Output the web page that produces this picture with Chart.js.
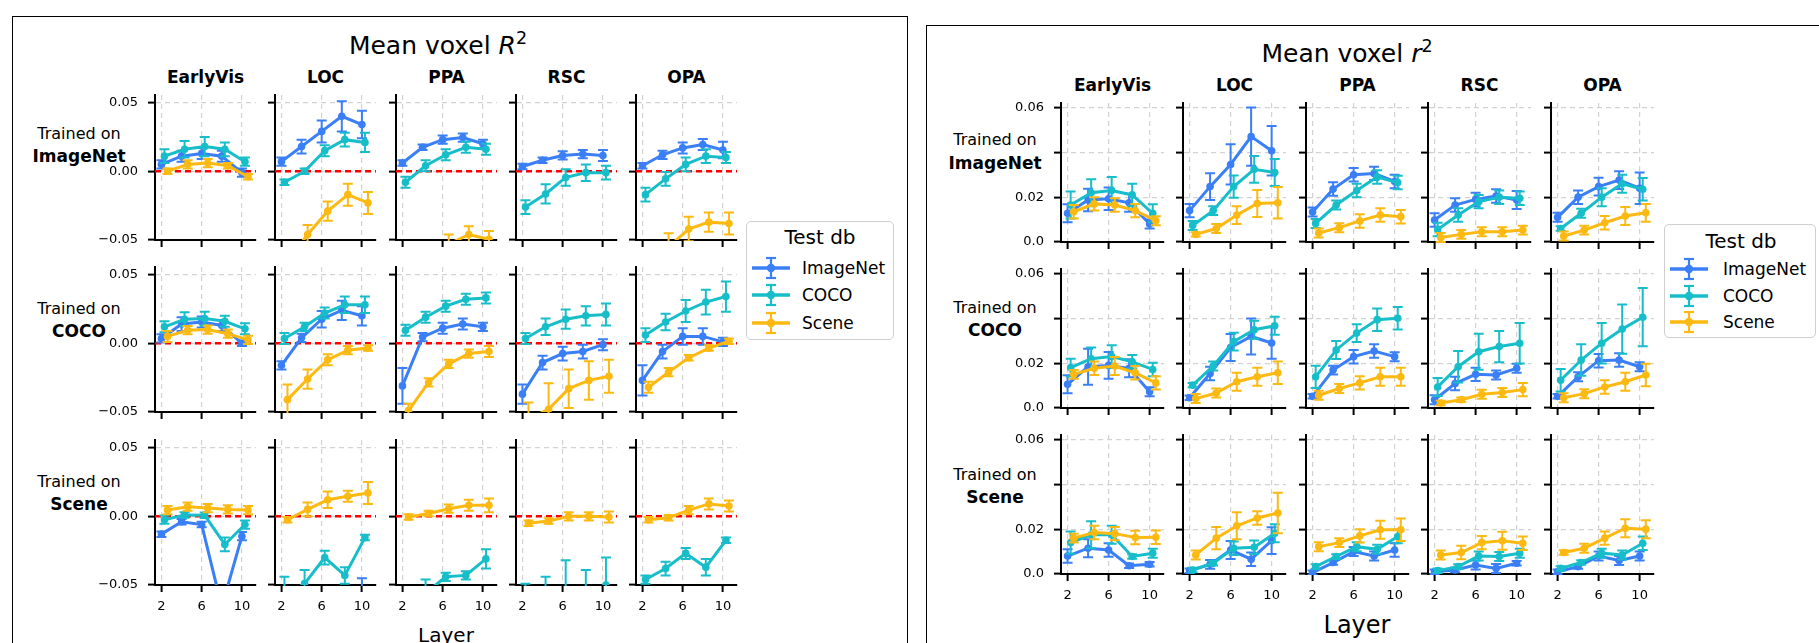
<!DOCTYPE html>
<html><head><meta charset="utf-8">
<script src="https://cdn.jsdelivr.net/npm/chart.js@4.4.1/dist/chart.umd.min.js"></script>
<style>
html,body{margin:0;padding:0;background:#fff;}
body{width:1819px;height:643px;position:relative;overflow:hidden;font-family:"DejaVu Sans",sans-serif;color:#000;}
.box{position:absolute;border:1.5px solid #000;box-sizing:border-box;}
.t{position:absolute;white-space:nowrap;transform:translate(-50%,-50%);line-height:1;}
.l{position:absolute;white-space:nowrap;transform:translate(0,-50%);line-height:1;}
canvas{position:absolute;}
.leg{position:absolute;border:1.5px solid #cfcfcf;border-radius:5px;background:#fff;box-sizing:border-box;}
sup{font-size:70%;vertical-align:0.55em;line-height:0;}
</style></head><body>
<div class="box" style="left:12px;top:16px;width:896px;height:700px;"></div>
<div class="box" style="left:926px;top:25px;width:1000px;height:700px;"></div>
<div id="root"></div>
<script>
// ---------------- DATA ----------------
const layers = [2, 4, 6, 8, 10];
const rois = ['EarlyVis', 'LOC', 'PPA', 'RSC', 'OPA'];
const trainDbs = ['ImageNet', 'COCO', 'Scene'];
const testDbs = ['ImageNet', 'COCO', 'Scene'];
const xTicks = [2, 6, 10];
const yTicksR2 = [-0.05, 0, 0.05];
const yTickLabelsR2 = ['\u22120.05', '0.00', '0.05'];
const yTicksr2 = [0, 0.02, 0.04, 0.06];
const yTickLabelsr2 = ['0.0', '0.02', '', '0.06'];

// Mean voxel R^2 (left), [roi][layer]
const R2_trImageNet_teImageNet = [[0.005,0.011,0.013,0.011,-0.001],[0.007,0.018,0.029,0.040,0.034],[0.006,0.0175,0.023,0.0245,0.020],[0.0035,0.008,0.0115,0.0125,0.0115],[0.004,0.012,0.017,0.0195,0.0155]];
const R2_trImageNet_teCOCO = [[0.011,0.016,0.018,0.016,0.007],[-0.008,0.000,0.015,0.023,0.021],[-0.008,0.004,0.012,0.0175,0.016],[-0.026,-0.0165,-0.0045,-0.001,-0.001],[-0.017,-0.0055,0.005,0.011,0.010]];
const R2_trImageNet_teScene = [[0.000,0.005,0.006,0.004,-0.004],[-0.066,-0.046,-0.029,-0.017,-0.023],[-0.08,-0.066,-0.053,-0.046,-0.0495],[-0.095,-0.085,-0.078,-0.074,-0.072],[-0.075,-0.055,-0.042,-0.037,-0.038]];
const R2_trCOCO_teImageNet = [[0.0035,0.014,0.0155,0.013,0.000],[-0.016,0.004,0.0175,0.024,0.020],[-0.031,0.0045,0.011,0.014,0.012],[-0.037,-0.014,-0.0075,-0.006,-0.001],[-0.027,-0.006,0.005,0.005,0.001]];
const R2_trCOCO_teCOCO = [[0.012,0.0175,0.018,0.016,0.0105],[0.0035,0.012,0.022,0.028,0.028],[0.0095,0.019,0.027,0.032,0.033],[0.0035,0.012,0.0175,0.020,0.021],[0.006,0.0155,0.0235,0.030,0.034]];
const R2_trCOCO_teScene = [[0.005,0.0095,0.010,0.007,0.0025],[-0.041,-0.026,-0.012,-0.005,-0.0035],[-0.049,-0.0285,-0.015,-0.0075,-0.006],[-0.055,-0.048,-0.033,-0.027,-0.024],[-0.032,-0.021,-0.0105,-0.0035,0.0015]];
const R2_trScene_teImageNet = [[-0.013,-0.004,-0.006,-0.066,-0.0145],[-0.085,-0.08,-0.075,-0.07,-0.057],[-0.09,-0.085,-0.08,-0.075,-0.07],[-0.1,-0.095,-0.09,-0.085,-0.08],[-0.09,-0.085,-0.08,-0.075,-0.07]];
const R2_trScene_teCOCO = [[-0.0025,0.001,0.0007,-0.0205,-0.006],[-0.058,-0.049,-0.030,-0.043,-0.0155],[-0.07,-0.056,-0.044,-0.043,-0.031],[-0.064,-0.06,-0.06,-0.055,-0.05],[-0.046,-0.038,-0.027,-0.037,-0.0175]];
const R2_trScene_teScene = [[0.0045,0.007,0.006,0.005,0.0045],[-0.0025,0.005,0.012,0.0145,0.017],[-0.0005,0.002,0.0055,0.008,0.008],[-0.005,-0.0035,0.0,0.0,-0.0005],[-0.0025,-0.001,0.0045,0.009,0.0075]];

const R2err_trImageNet_teImageNet = [[0.003,0.004,0.004,0.004,0.003],[0.003,0.005,0.008,0.011,0.010],[0.002,0.002,0.003,0.003,0.003],[0.002,0.002,0.003,0.003,0.004],[0.002,0.003,0.004,0.004,0.006]];
const R2err_trImageNet_teCOCO = [[0.005,0.006,0.007,0.005,0.003],[0.002,0.002,0.004,0.005,0.007],[0.004,0.004,0.004,0.004,0.004],[0.005,0.007,0.006,0.006,0.005],[0.005,0.005,0.005,0.005,0.004]];
const R2err_trImageNet_teScene = [[0.002,0.003,0.003,0.002,0.002],[0.007,0.007,0.007,0.008,0.008],[0.006,0.006,0.007,0.006,0.006],[0.01,0.01,0.01,0.01,0.01],[0.01,0.01,0.009,0.007,0.008]];
const R2err_trCOCO_teImageNet = [[0.003,0.005,0.004,0.004,0.002],[0.003,0.003,0.006,0.007,0.007],[0.013,0.003,0.004,0.004,0.003],[0.007,0.005,0.005,0.005,0.004],[0.011,0.005,0.006,0.006,0.003]];
const R2err_trCOCO_teCOCO = [[0.004,0.005,0.005,0.004,0.004],[0.004,0.003,0.004,0.006,0.006],[0.004,0.004,0.004,0.004,0.004],[0.004,0.006,0.007,0.007,0.008],[0.005,0.006,0.008,0.009,0.011]];
const R2err_trCOCO_teScene = [[0.004,0.003,0.003,0.003,0.003],[0.011,0.007,0.004,0.003,0.002],[0.005,0.003,0.003,0.003,0.004],[0.012,0.019,0.014,0.014,0.012],[0.004,0.003,0.002,0.002,0.002]];
const R2err_trScene_teImageNet = [[0.002,0.002,0.002,0.002,0.003],[0.01,0.01,0.01,0.01,0.012],[0.01,0.01,0.01,0.01,0.01],[0.01,0.01,0.01,0.01,0.01],[0.01,0.01,0.01,0.01,0.01]];
const R2err_trScene_teCOCO = [[0.003,0.002,0.002,0.005,0.003],[0.014,0.01,0.005,0.006,0.002],[0.01,0.01,0.003,0.003,0.007],[0.015,0.016,0.028,0.016,0.02],[0.003,0.005,0.004,0.006,0.002]];
const R2err_trScene_teScene = [[0.003,0.003,0.003,0.003,0.003],[0.002,0.005,0.006,0.004,0.008],[0.002,0.002,0.003,0.004,0.005],[0.002,0.002,0.003,0.003,0.004],[0.002,0.002,0.003,0.004,0.004]];

// Mean voxel r^2 (right), [roi][layer]
const r2_trImageNet_teImageNet = [[0.0128,0.0187,0.0193,0.0175,0.008],[0.014,0.0247,0.0346,0.047,0.0407],[0.0134,0.0236,0.030,0.0306,0.027],[0.0098,0.0165,0.019,0.0205,0.0187],[0.011,0.020,0.0247,0.0276,0.024]];
const r2_trImageNet_teCOCO = [[0.0165,0.022,0.023,0.021,0.0128],[0.0074,0.014,0.0247,0.0324,0.031],[0.0083,0.0165,0.023,0.029,0.0265],[0.0056,0.012,0.018,0.020,0.0195],[0.006,0.0128,0.020,0.026,0.0235]];
const r2_trImageNet_teScene = [[0.0135,0.017,0.0165,0.014,0.0095],[0.0034,0.006,0.012,0.0172,0.0175],[0.004,0.0064,0.0094,0.012,0.0113],[0.002,0.0034,0.0046,0.0046,0.0053],[0.0027,0.0053,0.0086,0.0116,0.013]];
const r2_trCOCO_teImageNet = [[0.0106,0.0184,0.019,0.0177,0.0072],[0.0046,0.0154,0.027,0.0319,0.029],[0.0052,0.0169,0.0229,0.0254,0.0229],[0.0037,0.0109,0.015,0.0147,0.0177],[0.0052,0.0139,0.0211,0.0214,0.0184]];
const r2_trCOCO_teCOCO = [[0.018,0.022,0.023,0.0206,0.0172],[0.0102,0.0187,0.0296,0.0349,0.0367],[0.0139,0.0259,0.0334,0.0394,0.040],[0.0094,0.0184,0.0251,0.0274,0.0289],[0.0124,0.0214,0.0289,0.0352,0.0405]];
const r2_trCOCO_teScene = [[0.015,0.0177,0.0187,0.0157,0.0112],[0.0042,0.0067,0.0117,0.0139,0.0157],[0.0057,0.0087,0.0112,0.0139,0.0139],[0.0022,0.0037,0.0061,0.0069,0.0082],[0.0046,0.0064,0.0094,0.0117,0.0147]];
const r2_trScene_teImageNet = [[0.008,0.0115,0.0107,0.0037,0.0043],[0.0015,0.0043,0.0107,0.0066,0.0149],[0.0006,0.0051,0.010,0.008,0.0107],[0.001,0.0018,0.004,0.0025,0.0048],[0.001,0.0033,0.008,0.006,0.008]];
const r2_trScene_teCOCO = [[0.014,0.0175,0.0175,0.0078,0.0093],[0.0018,0.0048,0.0115,0.0119,0.0182],[0.0033,0.0078,0.0122,0.011,0.0167],[0.0015,0.0033,0.008,0.0078,0.0093],[0.0025,0.0051,0.0093,0.0085,0.0137]];
const r2_trScene_teScene = [[0.016,0.0185,0.018,0.0163,0.0164],[0.0085,0.016,0.0215,0.025,0.0272],[0.0122,0.014,0.017,0.0197,0.0197],[0.0085,0.0096,0.014,0.0148,0.0137],[0.0096,0.0115,0.016,0.0204,0.020]];

const r2err_trImageNet_teImageNet = [[0.004,0.005,0.005,0.004,0.002],[0.003,0.006,0.009,0.013,0.011],[0.002,0.003,0.003,0.003,0.003],[0.003,0.003,0.003,0.003,0.004],[0.002,0.003,0.004,0.004,0.007]];
const r2err_trImageNet_teCOCO = [[0.006,0.006,0.006,0.005,0.004],[0.002,0.002,0.005,0.006,0.006],[0.002,0.002,0.003,0.003,0.003],[0.003,0.003,0.003,0.003,0.003],[0.001,0.002,0.004,0.004,0.005]];
const r2err_trImageNet_teScene = [[0.003,0.003,0.003,0.003,0.002],[0.001,0.002,0.004,0.006,0.007],[0.002,0.002,0.003,0.003,0.003],[0.002,0.002,0.002,0.002,0.002],[0.002,0.002,0.003,0.004,0.004]];
const r2err_trCOCO_teImageNet = [[0.004,0.008,0.006,0.004,0.002],[0.001,0.003,0.006,0.008,0.007],[0.001,0.002,0.003,0.003,0.002],[0.002,0.003,0.003,0.002,0.002],[0.001,0.002,0.003,0.003,0.002]];
const r2err_trCOCO_teCOCO = [[0.004,0.005,0.005,0.003,0.003],[0.001,0.002,0.004,0.004,0.004],[0.005,0.004,0.004,0.005,0.005],[0.004,0.007,0.008,0.007,0.009],[0.005,0.007,0.009,0.011,0.013]];
const r2err_trCOCO_teScene = [[0.002,0.003,0.004,0.003,0.003],[0.002,0.002,0.004,0.004,0.005],[0.002,0.002,0.003,0.004,0.004],[0.001,0.001,0.002,0.002,0.003],[0.002,0.002,0.003,0.004,0.005]];
const r2err_trScene_teImageNet = [[0.003,0.004,0.003,0.001,0.001],[0.001,0.002,0.004,0.003,0.006],[0.001,0.001,0.002,0.002,0.003],[0.001,0.001,0.002,0.002,0.001],[0.001,0.001,0.002,0.002,0.002]];
const r2err_trScene_teCOCO = [[0.005,0.006,0.004,0.001,0.002],[0.001,0.001,0.003,0.003,0.004],[0.001,0.001,0.002,0.002,0.003],[0.001,0.001,0.002,0.002,0.002],[0.001,0.001,0.002,0.002,0.003]];
const r2err_trScene_teScene = [[0.002,0.003,0.003,0.003,0.003],[0.002,0.005,0.006,0.003,0.009],[0.002,0.002,0.003,0.004,0.005],[0.002,0.003,0.003,0.004,0.003],[0.001,0.002,0.003,0.004,0.004]];

// ---------------- STYLE / LAYOUT ----------------
const colors = ['#3a7ff6', '#17bec9', '#fcb912'];
const dodge = [0, 0.3, 0.6];
const FONT = '"DejaVu Sans", sans-serif';

const meansR2 = {
  ImageNet: [R2_trImageNet_teImageNet, R2_trImageNet_teCOCO, R2_trImageNet_teScene],
  COCO: [R2_trCOCO_teImageNet, R2_trCOCO_teCOCO, R2_trCOCO_teScene],
  Scene: [R2_trScene_teImageNet, R2_trScene_teCOCO, R2_trScene_teScene]
};
const errsR2 = {
  ImageNet: [R2err_trImageNet_teImageNet, R2err_trImageNet_teCOCO, R2err_trImageNet_teScene],
  COCO: [R2err_trCOCO_teImageNet, R2err_trCOCO_teCOCO, R2err_trCOCO_teScene],
  Scene: [R2err_trScene_teImageNet, R2err_trScene_teCOCO, R2err_trScene_teScene]
};
const meansr2 = {
  ImageNet: [r2_trImageNet_teImageNet, r2_trImageNet_teCOCO, r2_trImageNet_teScene],
  COCO: [r2_trCOCO_teImageNet, r2_trCOCO_teCOCO, r2_trCOCO_teScene],
  Scene: [r2_trScene_teImageNet, r2_trScene_teCOCO, r2_trScene_teScene]
};
const errsr2 = {
  ImageNet: [r2err_trImageNet_teImageNet, r2err_trImageNet_teCOCO, r2err_trImageNet_teScene],
  COCO: [r2err_trCOCO_teImageNet, r2err_trCOCO_teCOCO, r2err_trCOCO_teScene],
  Scene: [r2err_trScene_teImageNet, r2err_trScene_teCOCO, r2err_trScene_teScene]
};

const panels = [
  { means: meansR2, errs: errsR2, lefts: [155, 275, 396, 516, 636], w: 101, tops: [95, 267, 440], h: 145,
    ymin: -0.05, ymax: 0.0555, yticks: yTicksR2, ylabels: yTickLabelsR2, zero: true,
    title: 'Mean voxel <i>R</i><sup>2</sup>', titleX: 438, titleY: 45, colY: 77,
    rowX: 79, rowY: [[134, 156], [309, 331], [482, 504]],
    layerX: 446, layerY: 635, layerSize: 20,
    leg: { x: 746, y: 221, w: 148, h: 119, tx: 820, ty: 237, iy: [268, 295, 322.5], sx: 752, tx0: 802 } },
  { means: meansr2, errs: errsr2, lefts: [1061, 1183, 1306, 1428, 1551], w: 103, tops: [103, 269, 435], h: 139,
    ymin: 0, ymax: 0.062, yticks: yTicksr2, ylabels: yTickLabelsr2, zero: false,
    title: 'Mean voxel <i>r</i><sup>2</sup>', titleX: 1347, titleY: 53, colY: 85,
    rowX: 995, rowY: [[140, 163], [308, 330], [475, 497]],
    layerX: 1357, layerY: 625, layerSize: 24,
    leg: { x: 1664, y: 224, w: 152, h: 114, tx: 1741, ty: 241, iy: [269, 296, 322], sx: 1670, tx0: 1723 } }
];

const errorBarPlugin = {
  id: 'errorBars',
  afterDatasetDraw(chart, args) {
    const ds = chart.data.datasets[args.index];
    const xs = chart.scales.x, ys = chart.scales.y, a = chart.chartArea, ctx = chart.ctx;
    ctx.save();
    ctx.beginPath();
    ctx.rect(a.left, a.top - 1, a.right - a.left, a.bottom - a.top + 2);
    ctx.clip();
    ctx.strokeStyle = ds.borderColor;
    ctx.lineWidth = 2;
    ds.data.forEach((p, i) => {
      const e = ds.errs[i];
      const x = xs.getPixelForValue(p.x);
      const y1 = ys.getPixelForValue(p.y - e), y2 = ys.getPixelForValue(p.y + e);
      ctx.beginPath();
      ctx.moveTo(x, y1); ctx.lineTo(x, y2);
      ctx.moveTo(x - 5, y1); ctx.lineTo(x + 5, y1);
      ctx.moveTo(x - 5, y2); ctx.lineTo(x + 5, y2);
      ctx.stroke();
    });
    ctx.restore();
  }
};
const zeroLinePlugin = {
  id: 'zeroLine',
  beforeDatasetsDraw(chart, args, opts) {
    if (!opts.show) return;
    const a = chart.chartArea, ctx = chart.ctx;
    const y = chart.scales.y.getPixelForValue(0);
    ctx.save();
    ctx.strokeStyle = '#ff0000';
    ctx.lineWidth = 2.5;
    ctx.setLineDash([6, 4]);
    ctx.beginPath();
    ctx.moveTo(a.left, y); ctx.lineTo(a.right, y);
    ctx.stroke();
    ctx.restore();
  }
};

const root = document.getElementById('root');
function addText(html, x, y, style, cls) {
  const d = document.createElement('div');
  d.className = cls || 't';
  d.style.left = x + 'px';
  d.style.top = y + 'px';
  d.style.cssText += style;
  d.innerHTML = html;
  root.appendChild(d);
  return d;
}
function swatch(color) {
  return '<svg width="38" height="24" viewBox="0 0 38 24" style="display:block">' +
    '<line x1="0" y1="12" x2="38" y2="12" stroke="' + color + '" stroke-width="3.5"/>' +
    '<line x1="19" y1="2" x2="19" y2="22" stroke="' + color + '" stroke-width="2.2"/>' +
    '<line x1="14" y1="2" x2="24" y2="2" stroke="' + color + '" stroke-width="2.2"/>' +
    '<line x1="14" y1="22" x2="24" y2="22" stroke="' + color + '" stroke-width="2.2"/>' +
    '<circle cx="19" cy="12" r="4.2" fill="' + color + '"/></svg>';
}

const PADL = 60, PADT = 10, PADR = 12, PADB = 40;
panels.forEach(P => {
  addText(P.title, P.titleX, P.titleY, 'font-size:25px;');
  rois.forEach((r, c) => addText(r, P.lefts[c] + P.w / 2, P.colY, 'font-size:17px;font-weight:bold;'));
  trainDbs.forEach((tr, r) => {
    addText('Trained on', P.rowX, P.rowY[r][0], 'font-size:16px;');
    addText(tr, P.rowX, P.rowY[r][1], 'font-size:17px;font-weight:bold;');
  });
  addText('Layer', P.layerX, P.layerY, 'font-size:' + P.layerSize + 'px;');

  // legend
  const L = P.leg;
  const lb = document.createElement('div');
  lb.className = 'leg';
  lb.style.cssText += 'left:' + L.x + 'px;top:' + L.y + 'px;width:' + L.w + 'px;height:' + L.h + 'px;';
  root.appendChild(lb);
  addText('Test db', L.tx, L.ty, 'font-size:20px;');
  testDbs.forEach((te, k) => {
    addText(swatch(colors[k]), L.sx, L.iy[k], '', 'l');
    addText(te, L.tx0, L.iy[k], 'font-size:17px;', 'l');
  });

  trainDbs.forEach((tr, r) => {
    rois.forEach((roi, c) => {
      const cv = document.createElement('canvas');
      const W = P.w + PADL + PADR, H = P.h + PADT + PADB;
      cv.width = W; cv.height = H;
      cv.style.width = W + 'px'; cv.style.height = H + 'px';
      cv.style.left = (P.lefts[c] - PADL) + 'px';
      cv.style.top = (P.tops[r] - PADT) + 'px';
      root.appendChild(cv);
      const datasets = testDbs.map((te, k) => ({
        label: te,
        data: layers.map((Ly, i) => ({ x: Ly + dodge[k], y: P.means[tr][k][c][i] })),
        errs: P.errs[tr][k][c],
        borderColor: colors[k],
        backgroundColor: colors[k],
        borderWidth: 3,
        pointRadius: 3.8,
        pointBorderWidth: 0,
        pointHoverRadius: 0,
        tension: 0,
        order: 2 - k
      }));
      const gridColor = (ctx) => {
        const v = ctx.tick ? ctx.tick.value : null;
        return (v === P.ymin) ? 'rgba(0,0,0,0)' : '#d2d2d2';
      };
      new Chart(cv, {
        type: 'line',
        data: { datasets },
        options: {
          responsive: false, animation: false, events: [],
          layout: { autoPadding: false, padding: { top: PADT, right: PADR, left: 0, bottom: 0 } },
          plugins: { legend: { display: false }, tooltip: { enabled: false }, zeroLine: { show: P.zero } },
          scales: {
            x: {
              type: 'linear', min: 1.36, max: 11.4,
              afterBuildTicks: s => { s.ticks = xTicks.map(v => ({ value: v })); },
              afterFit: s => { s.height = PADB; s.paddingLeft = 0; s.paddingRight = 0; s.paddingTop = 0; s.paddingBottom = 0; },
              grid: { color: '#d2d2d2', lineWidth: 1.2, drawTicks: true, tickColor: '#000', tickLength: 7, tickWidth: 2, tickBorderDash: [] },
              border: { display: true, color: '#000', width: 2, dash: [5, 4] },
              ticks: { display: r === 2, color: '#000', font: { family: FONT, size: 13 }, padding: 7, maxRotation: 0, autoSkip: false,
                callback: v => String(v) }
            },
            y: {
              type: 'linear', min: P.ymin, max: P.ymax,
              afterBuildTicks: s => { s.ticks = P.yticks.map(v => ({ value: v })); },
              afterFit: s => { s.width = PADL; s.paddingLeft = 0; s.paddingRight = 0; s.paddingTop = 0; s.paddingBottom = 0; },
              grid: { color: gridColor, lineWidth: 1.2, drawTicks: true, tickColor: '#000', tickLength: 7, tickWidth: 2, tickBorderDash: [] },
              border: { display: true, color: '#000', width: 2, dash: [5, 4] },
              ticks: { display: c === 0, color: '#000', font: { family: FONT, size: 13 }, padding: 10, autoSkip: false,
                callback: (v) => { const i = P.yticks.findIndex(t => Math.abs(t - v) < 1e-9); return i >= 0 ? P.ylabels[i] : ''; } }
            }
          }
        },
        plugins: [errorBarPlugin, zeroLinePlugin]
      });
    });
  });
});
</script>
</body></html>
